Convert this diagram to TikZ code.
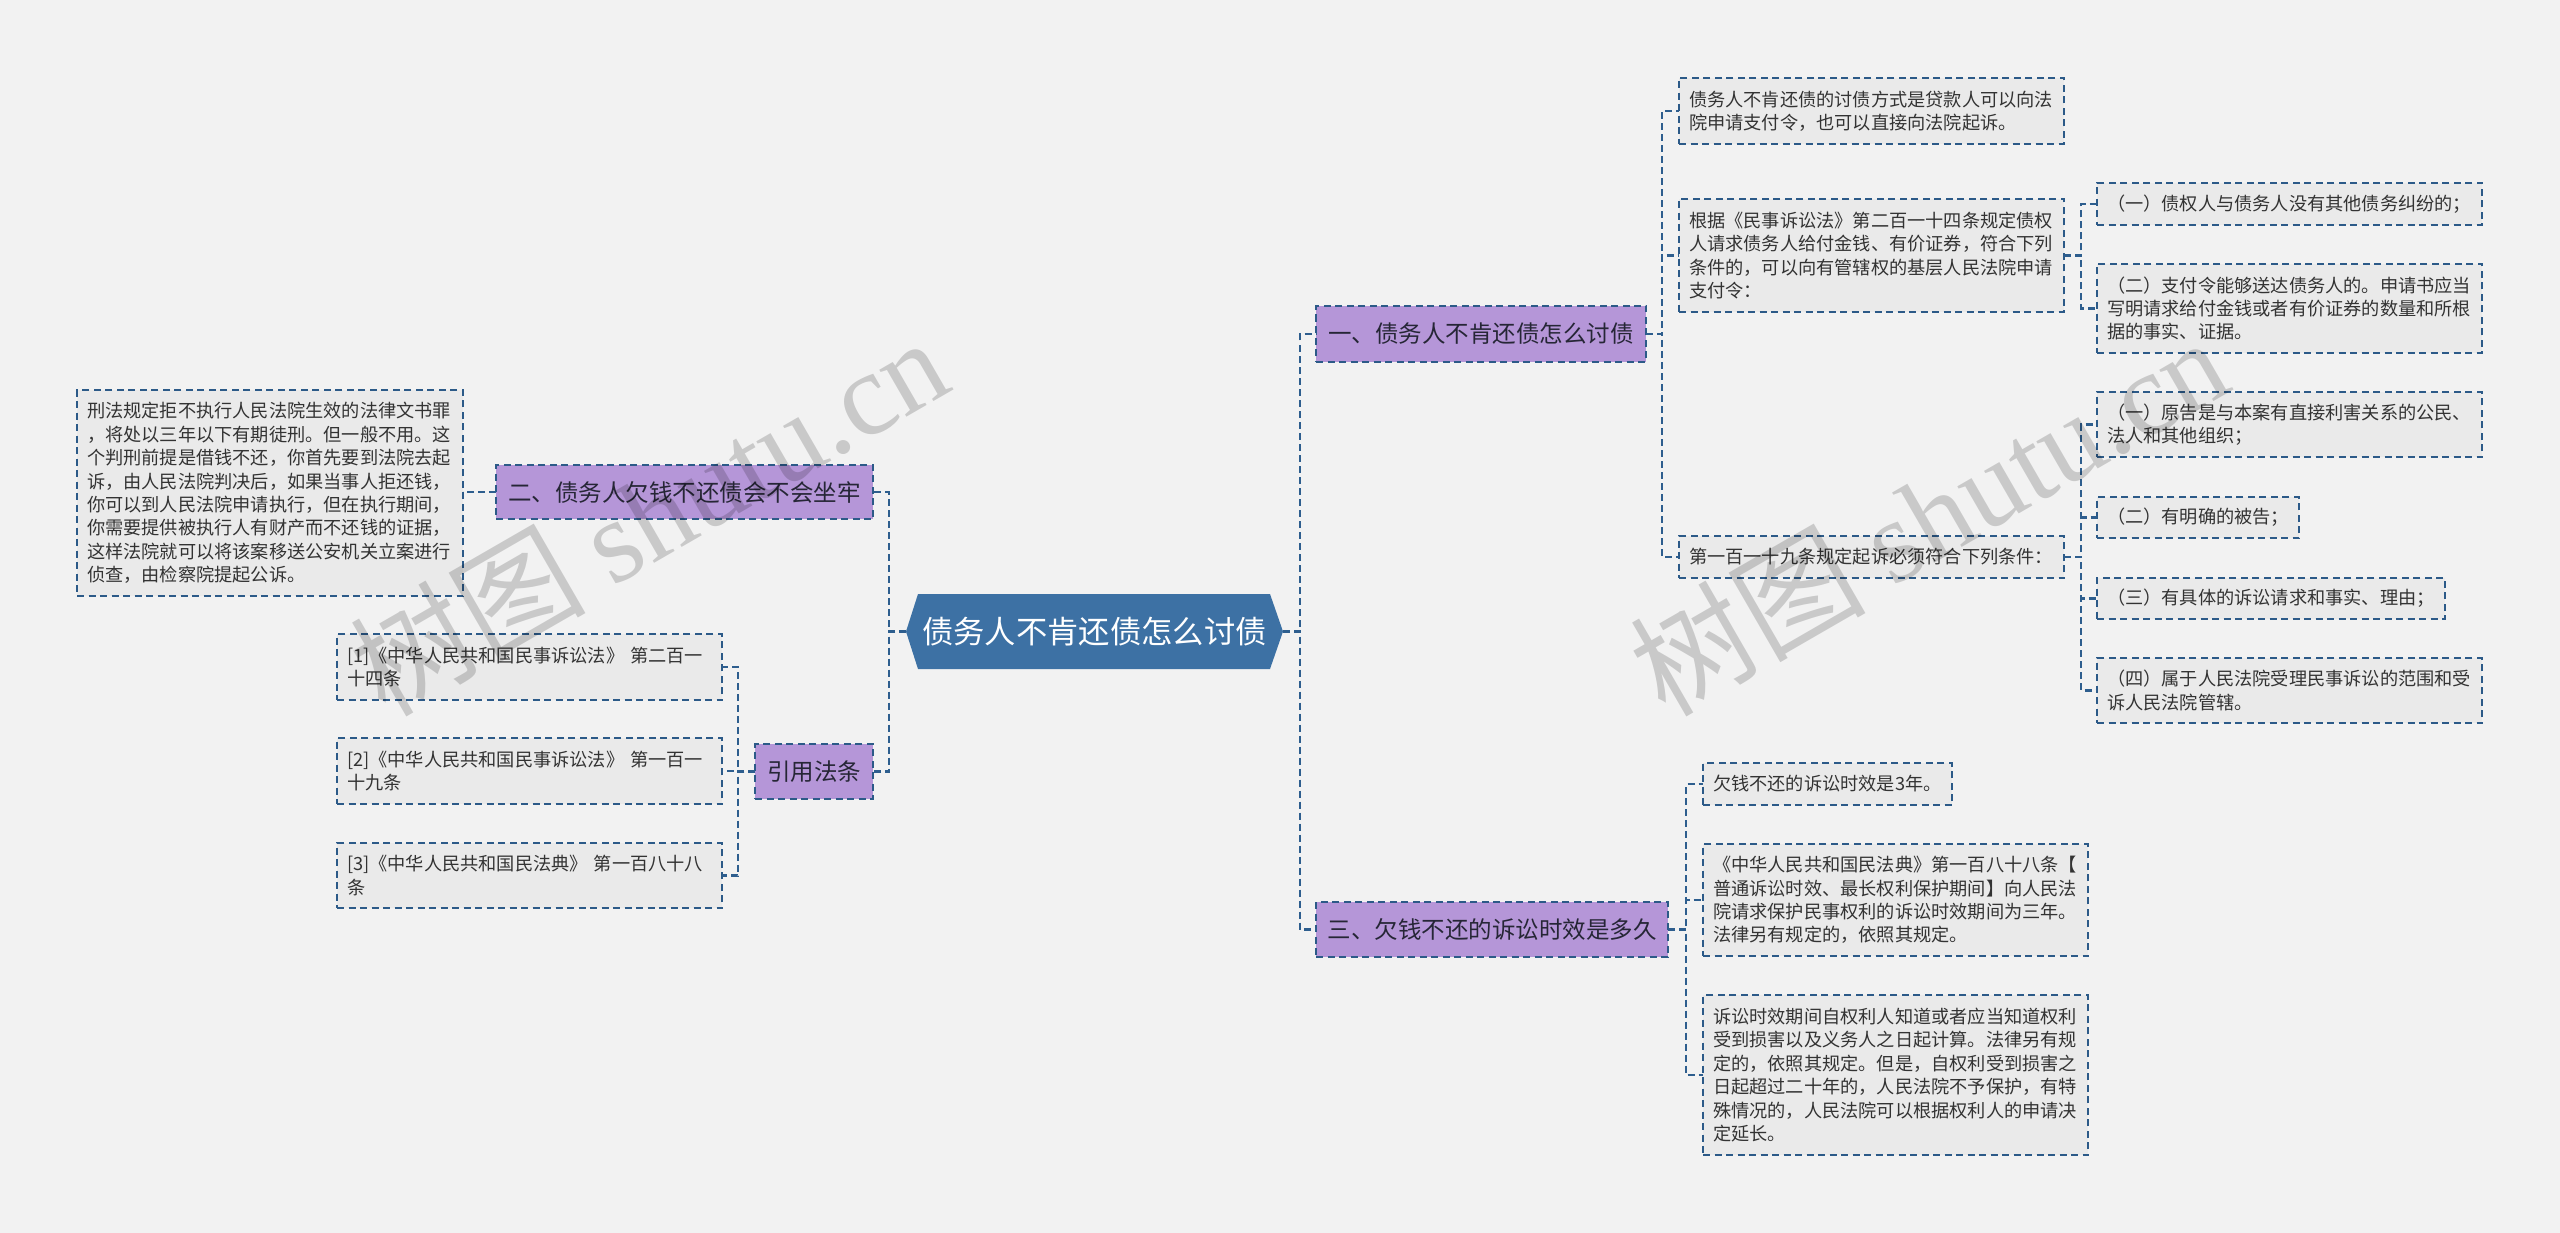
\documentclass[tikz,border=0pt]{standalone}
\usepackage{fontspec}
\setmainfont{Noto Sans CJK SC}
\newfontfamily\wmlatin{Liberation Serif}
\definecolor{bgc}{HTML}{F2F2F2}
\definecolor{rootc}{HTML}{3D71A4}
\definecolor{lav}{HTML}{B596D8}
\definecolor{leaff}{HTML}{EAEAEA}
\definecolor{bordc}{HTML}{2C5A88}
\definecolor{connc}{HTML}{2E5E8E}
\definecolor{leaftext}{HTML}{333333}
\definecolor{topictext}{HTML}{262636}
\begin{document}
\begin{tikzpicture}[x=1pt,y=-1pt,
  leaf/.style={draw=bordc, fill=leaff, line width=1.8pt, dash pattern=on 7pt off 4.5pt,
    anchor=north west, inner xsep=10pt, inner ysep=3pt, outer sep=0pt, align=left,
    text=leaftext, font=\fontsize{18.2}{23.4}\selectfont},
  topic/.style={draw=bordc, fill=lav, line width=1.8pt, dash pattern=on 7pt off 4.5pt,
    anchor=north west, inner sep=0pt, outer sep=0pt, text=topictext,
    font=\fontsize{23.5}{28}\selectfont},
  conn/.style={draw=connc, line width=2.2pt, dash pattern=on 7pt off 4pt},
  wm/.style={rotate=30, text=black, text opacity=0.17, font=\fontsize{118}{118}\selectfont}
]
\fill[bgc] (0,0) rectangle (2560,1233);
\useasboundingbox (0,0) rectangle (2560,1233);

% root
\fill[rootc] (906,631.5) -- (918,594) -- (1270,594) -- (1283,631.5) -- (1270,669) -- (918,669) -- cycle;
\node[text=white, font=\fontsize{31.3}{36}\selectfont, inner sep=0pt] (root) at (1094.5,631.5) {债务人不肯还债怎么讨债};
\coordinate (rootW) at (906,631.5);
\coordinate (rootE) at (1283,631.5);

% topics
\node[topic, minimum width=330pt, minimum height=56pt] (n1) at (1316,306) {一、债务人不肯还债怎么讨债};
\node[topic, minimum width=377pt, minimum height=54pt] (n2) at (496,465) {二、债务人欠钱不还债会不会坐牢};
\node[topic, minimum width=352pt, minimum height=55pt] (n3) at (1316,902) {三、欠钱不还的诉讼时效是多久};
\node[topic, minimum width=118pt, minimum height=55pt] (n4) at (755,744) {引用法条};

% left leaves
\node[leaf, text width=366pt, minimum height=206pt] (L) at (77,390) {刑法规定拒不执行人民法院生效的法律文书罪\\，将处以三年以下有期徒刑。但一般不用。这\\个判刑前提是借钱不还，你首先要到法院去起\\诉，由人民法院判决后，如果当事人拒还钱，\\你可以到人民法院申请执行，但在执行期间，\\你需要提供被执行人有财产而不还钱的证据，\\这样法院就可以将该案移送公安机关立案进行\\侦查，由检察院提起公诉。};
\node[leaf, text width=365pt, minimum height=66pt] (R1) at (337,634) {[1]《中华人民共和国民事诉讼法》 第二百一\\十四条};
\node[leaf, text width=365pt, minimum height=66pt] (R2) at (337,738) {[2]《中华人民共和国民事诉讼法》 第一百一\\十九条};
\node[leaf, text width=365pt, minimum height=65pt] (R3) at (337,843) {[3]《中华人民共和国民法典》 第一百八十八\\条};

% right leaves under n1
\node[leaf, text width=365pt, minimum height=66pt] (A) at (1679,78) {债务人不肯还债的讨债方式是贷款人可以向法\\院申请支付令，也可以直接向法院起诉。};
\node[leaf, text width=365pt, minimum height=113pt] (B) at (1679,199) {根据《民事诉讼法》第二百一十四条规定债权\\人请求债务人给付金钱、有价证券，符合下列\\条件的，可以向有管辖权的基层人民法院申请\\支付令：};
\node[leaf, text width=365pt, minimum height=42pt] (C) at (1679,536) {第一百一十九条规定起诉必须符合下列条件：};

\node[leaf, text width=365pt, minimum height=42pt] (B1) at (2097,183) {（一）债权人与债务人没有其他债务纠纷的；};
\node[leaf, text width=365pt, minimum height=89pt] (B2) at (2097,264) {（二）支付令能够送达债务人的。申请书应当\\写明请求给付金钱或者有价证券的数量和所根\\据的事实、证据。};

\node[leaf, text width=365pt, minimum height=65pt] (C1) at (2097,392) {（一）原告是与本案有直接利害关系的公民、\\法人和其他组织；};
\node[leaf, text width=182pt, minimum height=41pt] (C2) at (2097,497) {（二）有明确的被告；};
\node[leaf, text width=328pt, minimum height=41pt] (C3) at (2097,578) {（三）有具体的诉讼请求和事实、理由；};
\node[leaf, text width=365pt, minimum height=65pt] (C4) at (2097,658) {（四）属于人民法院受理民事诉讼的范围和受\\诉人民法院管辖。};

% leaves under n3
\node[leaf, text width=229pt, minimum height=42pt] (D1) at (1703,763) {欠钱不还的诉讼时效是3年。};
\node[leaf, text width=365pt, minimum height=112pt] (D2) at (1703,844) {《中华人民共和国民法典》第一百八十八条【\\普通诉讼时效、最长权利保护期间】向人民法\\院请求保护民事权利的诉讼时效期间为三年。\\法律另有规定的，依照其规定。};
\node[leaf, text width=365pt, minimum height=160pt] (D3) at (1703,995) {诉讼时效期间自权利人知道或者应当知道权利\\受到损害以及义务人之日起计算。法律另有规\\定的，依照其规定。但是，自权利受到损害之\\日起超过二十年的，人民法院不予保护，有特\\殊情况的，人民法院可以根据权利人的申请决\\定延长。};

% connectors
\draw[conn] (rootW) -- ++(-17,0) |- (n2.east);
\draw[conn] (rootW) -- ++(-17,0) |- (n4.east);
\draw[conn] (rootE) -- ++(17,0) |- (n1.west);
\draw[conn] (rootE) -- ++(17,0) |- (n3.west);

\draw[conn] (n2.west) -- (L.east |- n2.west);
\foreach \c in {R1,R2,R3} \draw[conn] (n4.west) -- ++(-17,0) |- (\c.east);
\foreach \c in {A,B,C} \draw[conn] (n1.east) -- ++(16,0) |- (\c.west);
\foreach \c in {B1,B2} \draw[conn] (B.east) -- ++(17,0) |- (\c.west);
\foreach \c in {C1,C2,C3,C4} \draw[conn] (C.east) -- ++(17,0) |- (\c.west);
\foreach \c in {D1,D2,D3} \draw[conn] (n3.east) -- ++(18,0) |- (\c.west);

% watermarks
\node[wm] (wm1) at (648,515) {树图 {\wmlatin shutu.cn}};
\node[wm] (wm2) at (1928,515) {树图 {\wmlatin shutu.cn}};
\end{tikzpicture}
\end{document}
